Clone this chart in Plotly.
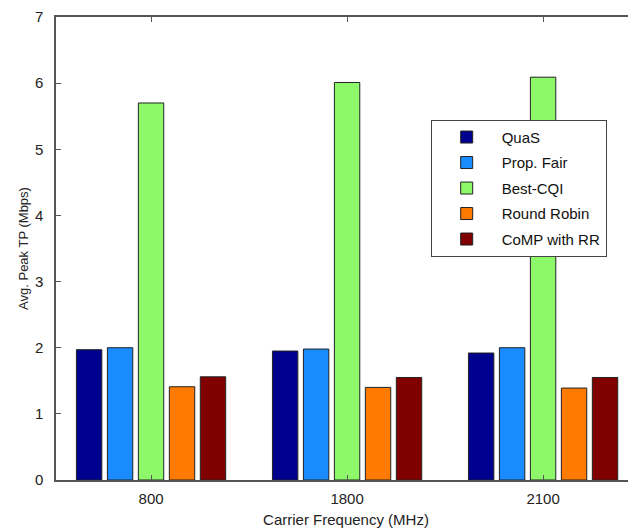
import plotly.graph_objects as go

categories = ["800", "1800", "2100"]
series_names = ["QuaS", "Prop. Fair", "Best-CQI", "Round Robin", "CoMP with RR"]
quas = [1.97, 1.95, 1.92]
prop_fair = [2.00, 1.98, 2.00]
best_cqi = [5.70, 6.01, 6.09]
round_robin = [1.41, 1.40, 1.39]
comp_rr = [1.56, 1.55, 1.55]
colors = ["#00008F", "#1A8CFF", "#8CF86A", "#FF7A00", "#800000"]

values = [quas, prop_fair, best_cqi, round_robin, comp_rr]

fig = go.Figure()
for i, (name, vals) in enumerate(zip(series_names, values)):
    fig.add_trace(go.Bar(
        x=list(range(len(categories))), y=vals, name=name,
        marker=dict(color=colors[i], line=dict(color="#222222", width=1)),
        legendgroup=name,
    ))

FAM = "Liberation Sans, Arial, sans-serif"
fig.update_layout(
    width=628, height=522,
    margin=dict(l=48, r=0, t=9, b=50),
    paper_bgcolor="white", plot_bgcolor="white",
    barmode="group", bargap=0.21, bargroupgap=0.18,
    font=dict(family=FAM, size=15, color="#222222"),
    showlegend=True,
    legend=dict(
        x=0.646, y=0.778, xanchor="left", yanchor="top",
        bgcolor="white", bordercolor="#444444", borderwidth=1,
        font=dict(family=FAM, size=15, color="#111111"),
        tracegroupgap=3, itemwidth=60,
    ),
    xaxis=dict(
        tickmode="array", tickvals=list(range(len(categories))), ticktext=categories,
        range=[-0.485, 2.474], showline=True, linecolor="#555555", linewidth=1.5,
        mirror="ticks", ticks="inside", ticklen=5, tickcolor="#555555",
        tickfont=dict(size=15), ticklabelstandoff=4,
        showgrid=False, zeroline=False, automargin=False,
        title=dict(text="Carrier Frequency (MHz)", font=dict(size=15), standoff=9),
    ),
    yaxis=dict(
        range=[0, 7], dtick=1, showline=True, linecolor="#555555", linewidth=1.5,
        mirror=True, ticks="inside", ticklen=5, tickcolor="#555555",
        tickfont=dict(size=15), ticklabelstandoff=8,
        showgrid=False, zeroline=False, automargin=False,
        title=dict(text="Avg. Peak TP (Mbps)", font=dict(size=13), standoff=3),
    ),
)

fig.write_html("out.html")
